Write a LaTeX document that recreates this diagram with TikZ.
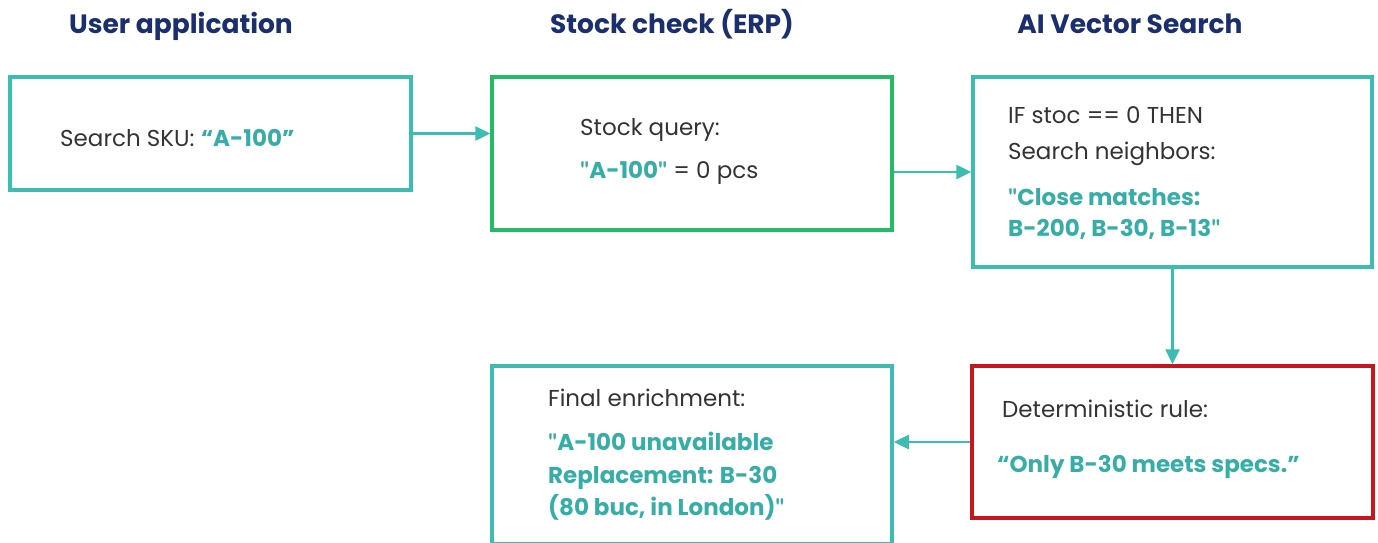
\documentclass[tikz,border=0pt]{standalone}
\usepackage{fontspec}
\setmainfont{Poppins}
\newfontfamily\quotefont{Lato}
\usetikzlibrary{arrows.meta}
\definecolor{tealc}{HTML}{3DBDB1}
\definecolor{tealtxt}{HTML}{36ADA6}
\definecolor{greenc}{HTML}{22BB66}
\definecolor{redc}{HTML}{C8161F}
\definecolor{navy}{HTML}{1B2F6E}
\definecolor{bodytxt}{HTML}{333333}
% upright straight double quote
\newcommand{\dq}{{\quotefont\symbol{34}}}
\tikzset{
  x=1pt, y=-1pt,
  box/.style={draw=#1, line width=3.5pt, inner sep=0pt},
  heading/.style={font=\fontsize{26.5}{30}\selectfont\bfseries, text=navy, anchor=base},
  body/.style={font=\fontsize{23}{27}\selectfont, text=bodytxt, anchor=base west, inner sep=0pt},
  hl/.style={body, text=tealtxt, font=\fontsize{23}{27}\selectfont\bfseries},
  arr/.style={draw=tealc, line width=2.5pt, -{Triangle[length=15pt,width=14pt]}},
}
\begin{document}
\begin{tikzpicture}
\useasboundingbox (0,0) rectangle (1378,542);

% column headings
\node[heading] (h1) at (181,33) {User application};
\node[heading] (h2) at (672,33) {Stock check (ERP)};
\node[heading] (h3) at (1130,33) {AI Vector Search};

% boxes
\node[box=tealc, minimum width=401pt, minimum height=113pt] (b1) at (210.5,133.5) {};
\node[box=greenc, minimum width=400pt, minimum height=153pt] (b2) at (692,153.5) {};
\node[box=tealc, minimum width=399pt, minimum height=190pt] (b3) at (1172.5,172) {};
\node[box=tealc, minimum width=400pt, minimum height=178pt] (b4) at (692,455) {};
\node[box=redc, minimum width=401pt, minimum height=152pt] (b5) at (1172.5,442) {};

% texts
\node[body] (t1) at (60,146) {Search SKU: \textcolor{tealtxt}{\bfseries “A-100”}};

\node[body] (t2a) at (580,135) {Stock query:};
\node[body] (t2b) at (580,178) {\textcolor{tealtxt}{\bfseries \dq A-100\dq} = 0 pcs};

\node[body] (t3a) at (1008,123) {IF stoc == 0 THEN};
\node[body] (t3b) at (1008,159) {Search neighbors:};
\node[hl] (t3c) at (1008,205) {\dq Close matches:};
\node[hl] (t3d) at (1008,236) {B-200, B-30, B-13\dq};

\node[body] (t4a) at (548,406) {Final enrichment:};
\node[hl] (t4b) at (548,450) {\dq A-100 unavailable};
\node[hl] (t4c) at (548,483) {Replacement: B-30};
\node[hl] (t4d) at (548,515) {(80 buc, in London)\dq};

\node[body] (t5a) at (1002,417) {Deterministic rule:};
\node[hl] (t5b) at (997,472) {“Only B-30 meets specs.”};

% connectors
\draw[arr] (b1.east) -- (b1.east -| b2.west);
\draw[arr] (b2.east |- b3.west) -- (b3.west);
\draw[arr] (b3.south) -- (b5.north);
\draw[arr] (b5.west) -- (b5.west -| b4.east);
\end{tikzpicture}
\end{document}
